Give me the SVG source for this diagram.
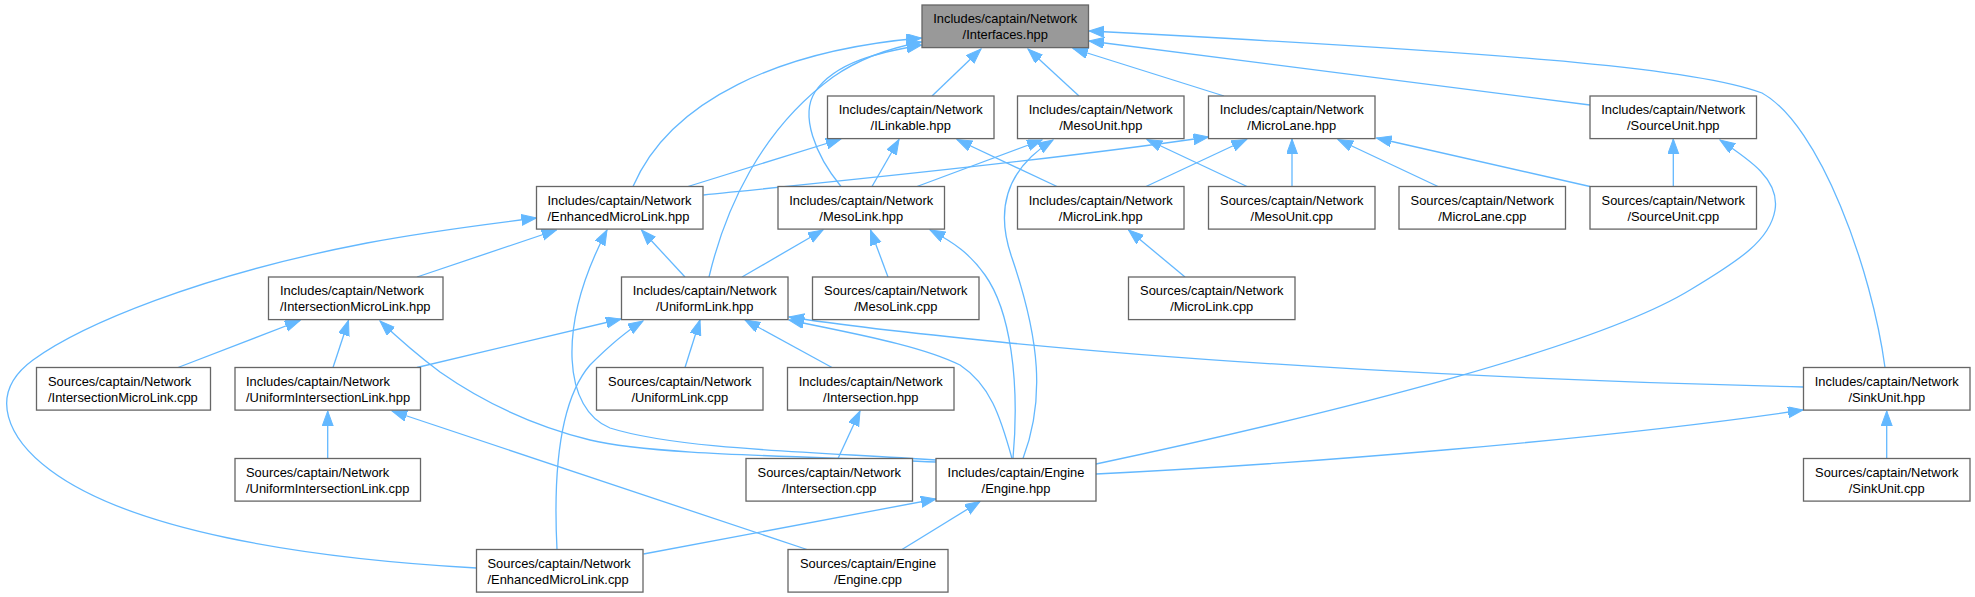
<svg xmlns="http://www.w3.org/2000/svg" width="1975" height="597" viewBox="0 0 1975 597">
<defs>
<style>
.node rect{fill:#ffffff;stroke:#666666;stroke-width:1.3}
.node rect.hl{fill:#999999}
text{font-family:"Liberation Sans",Arial,sans-serif;font-size:12.9px;fill:#000000;text-anchor:middle}
text.l{text-anchor:start}
#edges path{fill:none;stroke:#63b8ff;stroke-width:1.3;marker-end:url(#arr)}
</style>
<marker id="arr" markerUnits="userSpaceOnUse" markerWidth="16" markerHeight="12" refX="15" refY="5.5" orient="auto">
<path d="M0,0 L15,5.5 L0,11 Z" fill="#63b8ff" stroke="#63b8ff" stroke-width="1"/>
</marker>
</defs>
<rect width="1975" height="597" fill="#ffffff"/>
<g id="edges">
<path d="M932,96 L981,49"/>
<path d="M1079,96 L1028,49"/>
<path d="M1224,96 L1073,48.5"/>
<path d="M1590,105 L1089,41"/>
<path d="M1885,367.5 C1872,270 1820,125 1762,93 C1700,70 1550,55 1089,31"/>
<path d="M633,186.5 C670,100 780,50 921.5,38"/>
<path d="M709,277 C725,210 760,130 833,77 C860,58 890,48 921.5,42"/>
<path d="M841,186.5 C815,155 800,115 815,92 C835,62 880,52 921.5,45"/>
<path d="M688,186.5 L841,139"/>
<path d="M872,186.5 L899,139.5"/>
<path d="M1057,186.5 L957,139.5"/>
<path d="M917,186.5 L1042,140"/>
<path d="M1023,458.5 C1045,400 1040,340 1012,258 C995,210 1005,170 1053,140"/>
<path d="M1247,186.5 L1147,139.5"/>
<path d="M703.5,195 C850,180 1050,160 1208.5,137"/>
<path d="M1146,186.5 L1246.5,139.5"/>
<path d="M1292,186.5 L1292,139"/>
<path d="M1438,186.5 L1338,139.5"/>
<path d="M1590,186.5 L1376.5,138"/>
<path d="M1673.3,186.5 L1673.3,139"/>
<path d="M1096,464 C1350,410 1600,345 1690,290 C1740,260 1770,240 1775,210 C1780,180 1750,160 1720,140"/>
<path d="M417,277 L556.5,230"/>
<path d="M685,277 L641.5,230"/>
<path d="M936,460 C820,452 680,450 610,428 C565,410 555,330 607,230"/>
<path d="M476.5,568 C300,558 130,530 50,470 C10,440 -15,395 33,360 C81,325 200,275 367,243 C420,233 480,225 536.5,218"/>
<path d="M742,277 L823,230"/>
<path d="M888,277 L870.5,230"/>
<path d="M1013,458.5 C1020,380 1010,310 985,275 C970,254 955,243 930,230"/>
<path d="M1185,277 L1128.5,230"/>
<path d="M178,367.5 L300,320.5"/>
<path d="M333,367.5 L348.5,320.5"/>
<path d="M936,462 C800,456 650,455 590,440 C530,425 480,400 440,372 C420,357 400,340 380,321"/>
<path d="M417,367.5 L621,319"/>
<path d="M557,549.5 C553,470 560,400 590,365 C610,345 625,332 643,321"/>
<path d="M685,367.5 L700,320"/>
<path d="M832,367.5 L745,320"/>
<path d="M1012,458.5 C1000,415 990,385 960,365 C920,345 850,333 789,320"/>
<path d="M1803.5,387 C1500,380 1200,362 1000,342 C900,332 840,325 789,317"/>
<path d="M838,458.5 L860,411"/>
<path d="M327.7,458.5 L327.7,411"/>
<path d="M807,549.5 L392,411"/>
<path d="M1886.7,458.5 L1886.7,411"/>
<path d="M1096,474 C1300,464 1600,440 1803,410"/>
<path d="M902,549.5 L980,501.5"/>
<path d="M643.5,554 L936,499"/>
</g>
<g id="n_interfaces" class="node"><rect class="hl" x="922" y="5" width="166.5" height="42.6"/><text x="1005.25" y="23.4">Includes/captain/Network</text><text x="1005.25" y="39.4">/Interfaces.hpp</text></g>
<g id="n_ilinkable" class="node"><rect x="827.5" y="96" width="166.5" height="42.6"/><text x="910.75" y="114.4">Includes/captain/Network</text><text x="910.75" y="130.4">/ILinkable.hpp</text></g>
<g id="n_mesounit_hpp" class="node"><rect x="1017.5" y="96" width="166.5" height="42.6"/><text x="1100.75" y="114.4">Includes/captain/Network</text><text x="1100.75" y="130.4">/MesoUnit.hpp</text></g>
<g id="n_microlane_hpp" class="node"><rect x="1208.5" y="96" width="166.5" height="42.6"/><text x="1291.75" y="114.4">Includes/captain/Network</text><text x="1291.75" y="130.4">/MicroLane.hpp</text></g>
<g id="n_sourceunit_hpp" class="node"><rect x="1590" y="96" width="166.5" height="42.6"/><text x="1673.25" y="114.4">Includes/captain/Network</text><text x="1673.25" y="130.4">/SourceUnit.hpp</text></g>
<g id="n_enhancedmicrolink_hpp" class="node"><rect x="536.5" y="186.5" width="166.5" height="42.6"/><text class="l" x="547.5" y="204.9">Includes/captain/Network</text><text class="l" x="547.5" y="220.9">/EnhancedMicroLink.hpp</text></g>
<g id="n_mesolink_hpp" class="node"><rect x="778" y="186.5" width="166.5" height="42.6"/><text x="861.25" y="204.9">Includes/captain/Network</text><text x="861.25" y="220.9">/MesoLink.hpp</text></g>
<g id="n_microlink_hpp" class="node"><rect x="1017.5" y="186.5" width="166.5" height="42.6"/><text x="1100.75" y="204.9">Includes/captain/Network</text><text x="1100.75" y="220.9">/MicroLink.hpp</text></g>
<g id="n_mesounit_cpp" class="node"><rect x="1208.5" y="186.5" width="166.5" height="42.6"/><text x="1291.75" y="204.9">Sources/captain/Network</text><text x="1291.75" y="220.9">/MesoUnit.cpp</text></g>
<g id="n_microlane_cpp" class="node"><rect x="1399" y="186.5" width="166.5" height="42.6"/><text x="1482.25" y="204.9">Sources/captain/Network</text><text x="1482.25" y="220.9">/MicroLane.cpp</text></g>
<g id="n_sourceunit_cpp" class="node"><rect x="1590" y="186.5" width="166.5" height="42.6"/><text x="1673.25" y="204.9">Sources/captain/Network</text><text x="1673.25" y="220.9">/SourceUnit.cpp</text></g>
<g id="n_intersectionmicrolink_hpp" class="node"><rect x="268.5" y="277" width="174.5" height="42.6"/><text class="l" x="280" y="295.4">Includes/captain/Network</text><text class="l" x="280" y="311.4">/IntersectionMicroLink.hpp</text></g>
<g id="n_uniformlink_hpp" class="node"><rect x="621.5" y="277" width="166.5" height="42.6"/><text x="704.75" y="295.4">Includes/captain/Network</text><text x="704.75" y="311.4">/UniformLink.hpp</text></g>
<g id="n_mesolink_cpp" class="node"><rect x="812.5" y="277" width="166.5" height="42.6"/><text x="895.75" y="295.4">Sources/captain/Network</text><text x="895.75" y="311.4">/MesoLink.cpp</text></g>
<g id="n_microlink_cpp" class="node"><rect x="1128.5" y="277" width="166.5" height="42.6"/><text x="1211.75" y="295.4">Sources/captain/Network</text><text x="1211.75" y="311.4">/MicroLink.cpp</text></g>
<g id="n_intersectionmicrolink_cpp" class="node"><rect x="36.5" y="367.5" width="174" height="42.6"/><text class="l" x="48" y="385.9">Sources/captain/Network</text><text class="l" x="48" y="401.9">/IntersectionMicroLink.cpp</text></g>
<g id="n_uniformintersectionlink_hpp" class="node"><rect x="235" y="367.5" width="185.5" height="42.6"/><text class="l" x="246" y="385.9">Includes/captain/Network</text><text class="l" x="246" y="401.9">/UniformIntersectionLink.hpp</text></g>
<g id="n_uniformlink_cpp" class="node"><rect x="596.5" y="367.5" width="166.5" height="42.6"/><text x="679.75" y="385.9">Sources/captain/Network</text><text x="679.75" y="401.9">/UniformLink.cpp</text></g>
<g id="n_intersection_hpp" class="node"><rect x="787.5" y="367.5" width="166.5" height="42.6"/><text x="870.75" y="385.9">Includes/captain/Network</text><text x="870.75" y="401.9">/Intersection.hpp</text></g>
<g id="n_sinkunit_hpp" class="node"><rect x="1803.5" y="367.5" width="166.5" height="42.6"/><text x="1886.75" y="385.9">Includes/captain/Network</text><text x="1886.75" y="401.9">/SinkUnit.hpp</text></g>
<g id="n_uniformintersectionlink_cpp" class="node"><rect x="235" y="458.5" width="185.5" height="42.6"/><text class="l" x="246" y="476.9">Sources/captain/Network</text><text class="l" x="246" y="492.9">/UniformIntersectionLink.cpp</text></g>
<g id="n_intersection_cpp" class="node"><rect x="746" y="458.5" width="166.5" height="42.6"/><text x="829.25" y="476.9">Sources/captain/Network</text><text x="829.25" y="492.9">/Intersection.cpp</text></g>
<g id="n_engine_hpp" class="node"><rect x="936" y="458.5" width="160" height="42.6"/><text x="1016" y="476.9">Includes/captain/Engine</text><text x="1016" y="492.9">/Engine.hpp</text></g>
<g id="n_sinkunit_cpp" class="node"><rect x="1803.5" y="458.5" width="166.5" height="42.6"/><text x="1886.75" y="476.9">Sources/captain/Network</text><text x="1886.75" y="492.9">/SinkUnit.cpp</text></g>
<g id="n_enhancedmicrolink_cpp" class="node"><rect x="476.5" y="549.5" width="166.5" height="42.6"/><text class="l" x="487.5" y="567.9">Sources/captain/Network</text><text class="l" x="487.5" y="583.9">/EnhancedMicroLink.cpp</text></g>
<g id="n_engine_cpp" class="node"><rect x="788" y="549.5" width="160" height="42.6"/><text x="868" y="567.9">Sources/captain/Engine</text><text x="868" y="583.9">/Engine.cpp</text></g>
</svg>
